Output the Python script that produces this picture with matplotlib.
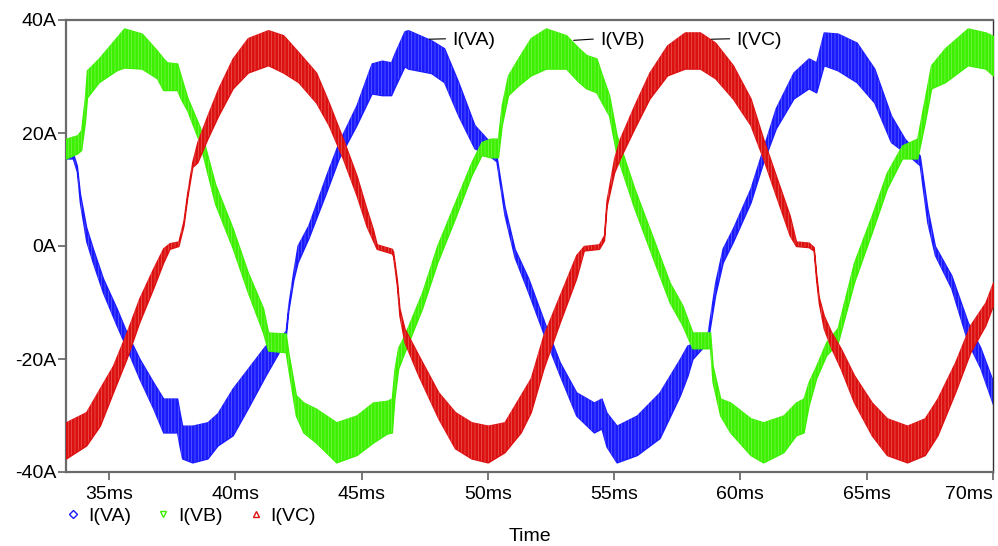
import matplotlib
matplotlib.use("Agg")
import matplotlib.pyplot as plt
from matplotlib.lines import Line2D
from matplotlib.ticker import FuncFormatter

plt.rcParams['font.family'] = ['Liberation Sans', 'DejaVu Sans']
plt.rcParams['hatch.linewidth'] = 0.35

# I(VA) envelope of the switching ripple (ms, A)
t_a = [33.3, 33.57, 33.73, 33.85, 34.1, 34.36, 34.76, 35.3, 35.7, 36.2, 36.75, 37.15, 37.7, 37.8,
       37.9, 38.3, 38.9, 39.3, 39.9, 40.5, 41.2, 41.7, 42.0, 42.1, 42.3, 42.47, 42.9, 43.6, 44.1,
       44.8, 45.4, 45.8, 46.17, 46.3, 46.7, 46.84, 47.76, 48.27, 48.83, 49.47, 50.02, 50.34, 50.66,
       51.06, 51.6, 52.33, 52.85, 53.5, 54.2, 54.5, 54.7, 55.1, 55.9, 56.8, 57.6, 57.9, 58.1, 58.7,
       59.0, 59.3, 59.7, 60.4, 60.9, 61.4, 62.1, 62.7, 63.0, 63.3, 63.85, 64.6, 65.3, 65.96, 66.5,
       67.1, 67.4, 67.7, 68.35, 69.0, 69.5, 70.0]
a_hi = [17.0, 16.5, 14.2, 9.3, 3.3, -0.4, -5.7, -11.0, -15.3, -19.9, -24.1, -27.0, -27.0, -29.5,
        -31.8, -31.8, -31.2, -29.6, -25.2, -21.7, -17.6, -16.5, -15.0, -10.5, -4.5, 0.1, 3.7, 12.5,
        18.4, 24.9, 32.3, 32.8, 32.5, 34.0, 38.0, 38.2, 36.4, 35.0, 29.0, 21.4, 18.7, 16.0, 7.0,
        -0.5, -5.7, -14.6, -20.6, -25.9, -27.7, -27.0, -29.5, -31.8, -30.0, -25.9, -20.0, -17.6,
        -17.3, -15.5, -6.5, -0.4, 3.1, 10.2, 17.3, 24.4, 30.7, 33.2, 32.5, 37.8, 37.6, 36.0, 31.4,
        23.1, 19.0, 16.0, 6.7, 0.0, -5.2, -13.5, -18.0, -24.0]
a_lo = [15.5, 15.5, 13.2, 7.7, 0.9, -2.9, -8.2, -14.0, -18.1, -23.4, -28.7, -33.0, -33.0, -35.5,
        -37.6, -38.3, -37.6, -35.3, -33.5, -28.7, -22.9, -19.0, -16.0, -11.5, -6.0, -2.9, 1.4, 9.5,
        15.5, 21.4, 27.0, 26.7, 26.7, 28.0, 31.8, 31.4, 30.6, 29.0, 23.1, 17.3, 16.1, 15.0, 5.5,
        -2.0, -8.2, -17.0, -22.9, -30.0, -33.0, -32.3, -35.5, -38.3, -37.0, -34.0, -26.5, -23.0,
        -20.0, -17.0, -8.7, -2.9, 0.7, 7.7, 14.8, 20.8, 26.1, 27.9, 27.2, 32.0, 31.1, 29.0, 25.4,
        18.4, 16.6, 14.3, 4.2, -1.6, -7.5, -17.0, -21.6, -28.0]

# I(VB)
t_b = [33.3, 33.75, 33.9, 34.05, 34.13, 34.6, 35.3, 35.6, 36.3, 36.9, 37.15, 37.3, 37.7, 37.85,
       38.1, 38.6, 39.2, 39.9, 40.5, 41.1, 41.3, 42.0, 42.1, 42.4, 42.7, 43.2, 44.0, 44.8, 45.45,
       46.0, 46.2, 46.3, 46.45, 46.7, 47.4, 48.0, 48.7, 49.35, 49.75, 50.1, 50.4, 50.55, 50.8, 51.2,
       51.7, 52.3, 53.1, 53.6, 53.9, 54.3, 54.5, 54.8, 55.1, 55.8, 56.6, 57.2, 57.7, 58.1, 58.8,
       58.9, 59.2, 59.6, 60.4, 60.9, 61.7, 62.2, 62.5, 62.7, 63.0, 63.4, 63.85, 64.5, 65.2, 65.8,
       66.4, 67.0, 67.3, 67.55, 68.1, 69.0, 69.7, 70.0]
b_hi = [19.0, 19.6, 20.5, 26.3, 31.1, 33.2, 36.9, 38.5, 37.6, 34.6, 33.2, 32.5, 32.3, 30.0,
        26.3, 21.0, 11.0, 3.1, -4.7, -11.0, -15.3, -15.5, -18.8, -26.4, -27.7, -28.8, -31.2, -30.0,
        -27.7, -27.4, -27.0, -22.0, -18.0, -15.8, -8.2, 0.1, 7.7, 14.8, 18.4, 19.0, 19.0, 24.9,
        30.2, 33.2, 36.8, 38.5, 37.3, 35.0, 33.8, 33.2, 30.5, 26.7, 19.6, 10.2, 0.7, -6.5, -10.5,
        -15.3, -15.3, -21.2, -27.0, -27.7, -30.5, -31.2, -30.0, -27.7, -27.0, -24.1, -21.2, -17.0,
        -14.5, -2.9, 5.4, 13.0, 17.8, 19.0, 26.1, 32.0, 35.0, 38.5, 37.8, 37.2]
b_lo = [15.5, 16.4, 17.0, 22.0, 26.3, 29.0, 31.1, 31.6, 31.4, 29.7, 27.6, 27.6, 27.6, 26.0,
        24.0, 18.2, 7.5, -0.4, -8.2, -15.3, -18.5, -18.8, -21.7, -30.0, -33.0, -34.8, -38.3, -37.0,
        -34.8, -33.2, -33.0, -27.0, -21.7, -18.8, -11.0, -2.9, 4.9, 12.5, 16.1, 15.7, 15.7, 21.4,
        26.7, 28.4, 30.2, 31.4, 31.4, 29.0, 27.9, 27.2, 25.5, 23.1, 16.1, 6.7, -2.9, -10.0, -14.0,
        -18.1, -18.1, -24.1, -30.0, -33.0, -37.0, -38.3, -36.5, -33.5, -33.0, -28.2, -23.4, -19.3,
        -17.2, -6.4, 2.4, 10.2, 15.5, 15.5, 21.9, 27.9, 29.0, 32.0, 31.4, 30.2]

# I(VC)
t_c = [33.3, 34.1, 34.64, 35.16, 35.7, 36.2, 36.75, 37.15, 37.4, 37.75, 37.95, 38.1, 38.3, 38.5,
       38.9, 39.33, 39.9, 40.5, 41.3, 41.9, 42.5, 43.2, 43.7, 44.26, 44.8, 45.2, 45.45, 45.6, 46.2,
       46.25, 46.4, 46.5, 46.7, 47.25, 48.04, 48.7, 49.35, 50.0, 50.66, 51.3, 51.7, 52.2, 52.85,
       53.5, 53.8, 54.4, 54.6, 54.7, 55.0, 55.23, 55.8, 56.4, 57.1, 57.8, 58.4, 59.0, 59.7, 60.4,
       60.9, 61.4, 61.95, 62.2, 62.7, 62.9, 63.0, 63.1, 63.3, 63.6, 63.97, 64.5, 65.2, 65.8, 66.6,
       67.3, 67.8, 68.5, 69.1, 69.7, 70.0]
c_hi = [-31.2, -29.4, -25.2, -21.2, -15.3, -9.3, -4.0, -0.4, 0.5, 0.8, 4.4, 9.4, 14.9, 18.4,
        23.1, 27.9, 33.2, 36.8, 38.2, 37.3, 34.3, 30.7, 25.4, 19.0, 12.5, 6.5, 3.0, 0.3, -0.5,
        -1.0, -6.0, -11.0, -14.6, -19.3, -25.9, -29.4, -31.2, -31.8, -31.2, -26.4, -23.4, -15.8,
        -8.7, -1.6, 0.0, 0.3, 1.9, 8.0, 15.5, 19.0, 24.9, 30.7, 35.5, 37.8, 37.8, 36.0, 32.0, 26.1,
        19.0, 12.5, 5.4, 0.8, 0.6, -0.2, -5.0, -9.0, -12.3, -15.3, -18.1, -22.9, -27.7, -30.5,
        -31.8, -30.5, -27.0, -20.6, -14.0, -10.0, -6.5]
c_lo = [-37.6, -35.3, -31.8, -25.9, -19.9, -13.5, -7.5, -2.9, -0.5, 0.0, 3.6, 8.6, 14.0, 14.8,
        19.0, 23.1, 27.9, 30.7, 32.0, 30.7, 29.0, 25.4, 21.4, 15.5, 9.0, 3.5, 1.0, -0.5, -1.3,
        -1.8, -7.0, -12.3, -17.0, -22.9, -30.5, -35.8, -37.6, -38.3, -36.5, -33.0, -29.4, -21.7,
        -13.5, -5.7, -0.8, -0.5, 1.0, 7.0, 13.0, 15.5, 20.8, 26.1, 30.2, 31.4, 31.4, 29.7, 26.1,
        21.4, 15.5, 9.0, 1.9, 0.0, -0.2, -0.8, -6.0, -10.0, -14.6, -18.1, -21.7, -27.7, -33.5,
        -37.0, -38.3, -37.0, -33.5, -25.9, -18.8, -14.0, -10.5]

names = ['I(VA)', 'I(VB)', 'I(VC)']
colors = ['#1a1aff', '#3cf000', '#dd1010']
markers = ['D', 'v', '^']
x_ticks = [35, 40, 45, 50, 55, 60, 65, 70]
y_ticks = [-40, -20, 0, 20, 40]
fs = 14

fig = plt.figure(figsize=(9.98, 5.46), dpi=100)
ax = fig.add_axes([66 / 998, 1 - 472 / 546, (993 - 66) / 998, (472 - 20) / 546])

series = [(t_a, a_lo, a_hi), (t_b, b_lo, b_hi), (t_c, c_lo, c_hi)]
for i, (t, lo, hi) in enumerate(series):
    ax.fill_between(t, lo, hi, color=colors[i], lw=1.0, zorder=2 + i)
    # faint vertical striation of the switching ripple
    ax.fill_between(t, lo, hi, facecolor='none', edgecolor='white', lw=0, hatch='|||||',
                    alpha=0.45, zorder=2 + i)

ax.set_xlim(33.3, 70)
ax.set_ylim(-40, 40)
ax.set_xticks(x_ticks)
ax.set_yticks(y_ticks)
ax.xaxis.set_major_formatter(FuncFormatter(lambda v, p: f"{v:g}ms"))
ax.yaxis.set_major_formatter(FuncFormatter(lambda v, p: f"{v:g}A"))
ax.tick_params(direction='out', length=6, width=1.2, color='#606060', labelsize=fs, pad=1)
ax.tick_params(axis='x', pad=4)
xl = ax.get_xticklabels()
xl[-1].set_ha('right')
for s in ['top', 'left', 'bottom']:
    ax.spines[s].set_color('#6a6a6a')
    ax.spines[s].set_linewidth(1.6)
ax.spines['right'].set_color('#303030')
ax.spines['right'].set_linewidth(1.0)

# trace labels with leader lines
lab_pts = [(47.68, 36.6, 48.6), (53.4, 36.4, 54.45), (58.85, 36.6, 59.85)]
for i, (x0, y0, xt) in enumerate(lab_pts):
    ax.annotate(names[i], xy=(x0, y0), xytext=(xt, 36.4), fontsize=fs, va='center', ha='left',
                arrowprops=dict(arrowstyle='-', color='black', lw=0.8, shrinkA=3, shrinkB=0,
                                relpos=(0, 0.6)), zorder=10)

handles = [Line2D([], [], ls='none', marker=markers[i], markersize=4.5, markerfacecolor='none',
                  markeredgecolor=colors[i], markeredgewidth=1.0) for i in range(3)]
fig.legend(handles, names, loc='center left', bbox_to_anchor=(67 / 998, 1 - 516 / 546), ncol=3,
           frameon=False, fontsize=fs, handlelength=0.6, handletextpad=0.47, columnspacing=1.38,
           borderpad=0, borderaxespad=0)
fig.text(529.5 / 998, 1 - 541 / 546, 'Time', ha='center', va='baseline', fontsize=fs)

fig.savefig('out.png', dpi=100)
